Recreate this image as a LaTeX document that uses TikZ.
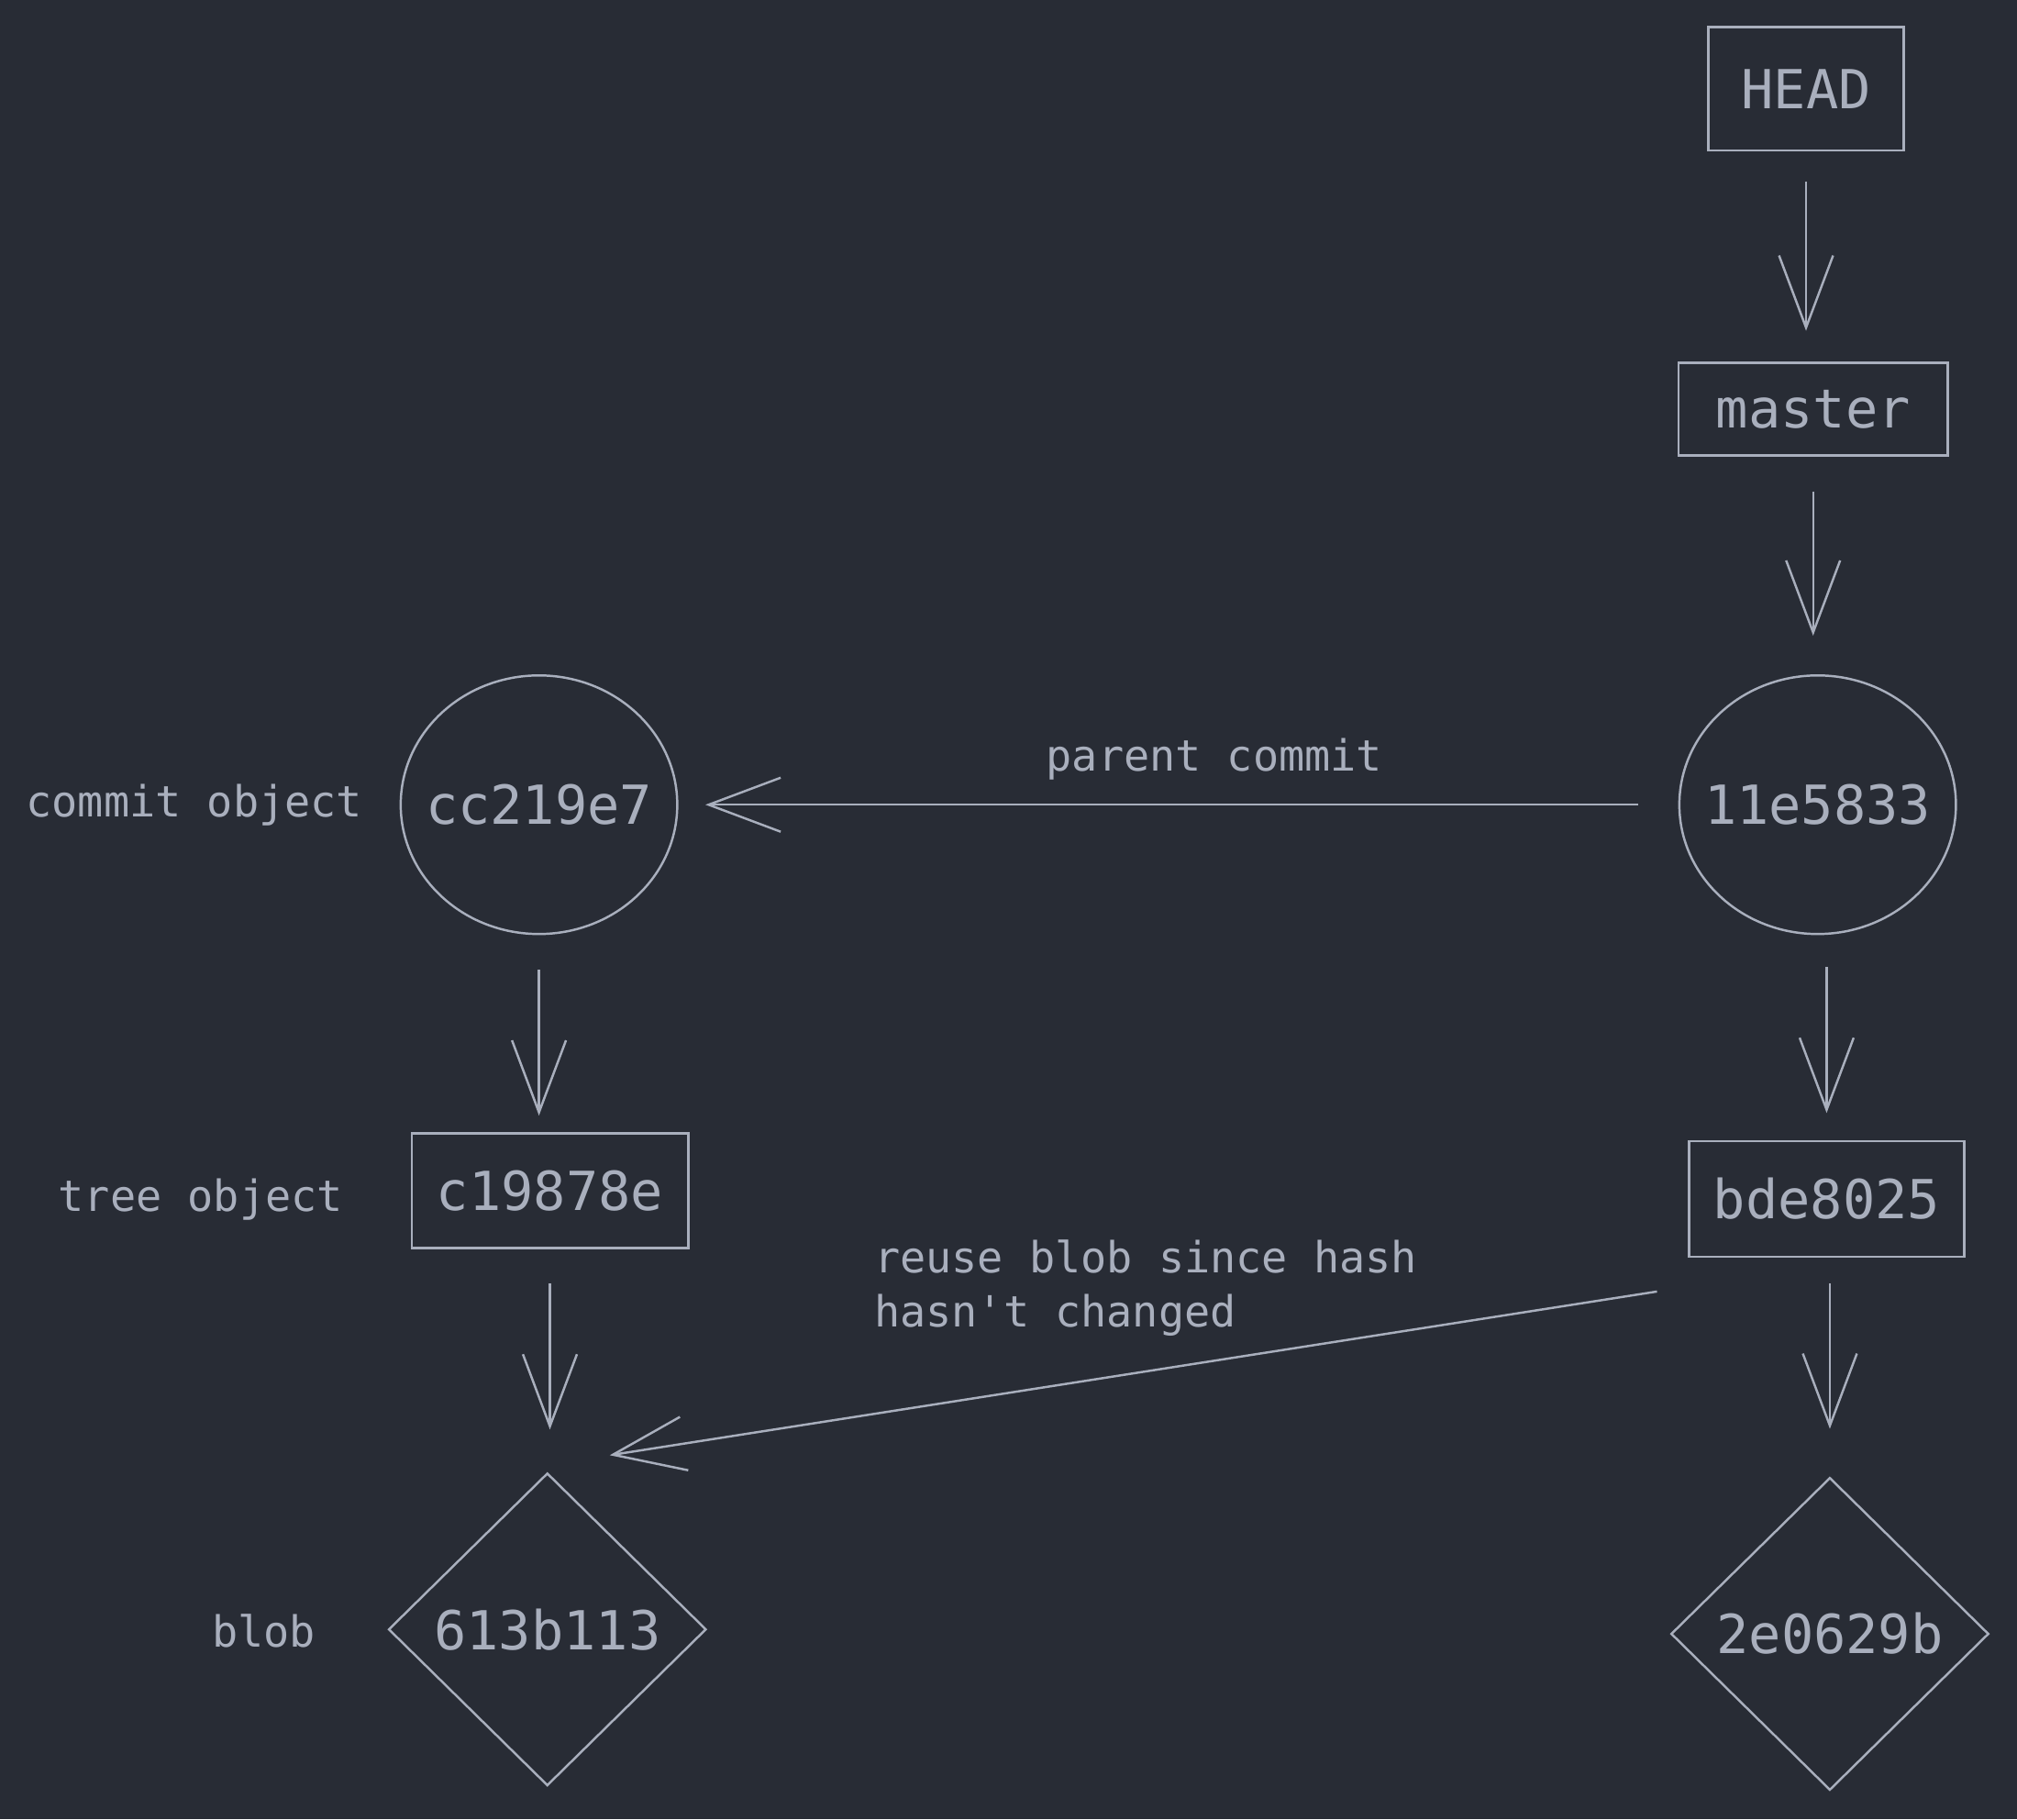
\documentclass[tikz,border=0pt]{standalone}
\usepackage{fontspec}
\setmonofont{DejaVu Sans Mono}
\usetikzlibrary{shapes.geometric,arrows.meta}
\definecolor{bgdark}{RGB}{40,44,53}
\definecolor{fggray}{RGB}{169,175,189}
\begin{document}
\begin{tikzpicture}[>={Straight Barb[length=5.6mm,width=4.2mm]},line width=0.5pt,
  every node/.style={text=fggray,font=\ttfamily\fontsize{9.5}{11.9}\selectfont},
  obj/.style={draw=fggray,inner sep=0pt,font=\ttfamily\fontsize{11.9}{14}\selectfont},
  ref/.style={obj,rectangle},
  commit/.style={obj,ellipse,inner xsep=-0.15cm,minimum width=2.15cm,minimum height=2.01cm},
  blob/.style={obj,diamond,minimum width=2.47cm,minimum height=2.43cm},
  link/.style={->,draw=fggray}]
\fill [bgdark] (0,0) rectangle (15.68,-14.14);
\useasboundingbox (0,0) rectangle (15.68,-14.14);
\node [ref,minimum width=1.52cm,minimum height=0.96cm] (head) at (14.04,-0.69) {HEAD};
\node [ref,minimum width=2.09cm,minimum height=0.72cm] (master) at (14.095,-3.18) {master};
\node [commit] (c11e) at (14.13,-6.255) {11e5833};
\node [commit] (ccc2) at (4.19,-6.255) {cc219e7};
\node [ref,minimum width=2.15cm,minimum height=0.89cm] (c198) at (4.275,-9.255) {c19878e};
\node [ref,minimum width=2.14cm,minimum height=0.90cm] (bde8) at (14.20,-9.32) {bde8025};
\node [blob] (b613) at (4.255,-12.665) {613b113};
\node [blob] (b2e0) at (14.225,-12.70) {2e0629b};
\node (lcommit) at (1.51,-6.26) {commit object};
\node (ltree) at (1.56,-9.32) {tree object};
\node (lblob) at (2.05,-12.68) {blob};
\node (lparent) at (9.44,-5.90) {parent commit};
\node [anchor=west,align=left] (lreuse) at (6.67,-10.01) {reuse blob since hash\\hasn't changed};
\draw [link,shorten <=0.23cm,shorten >=0.24cm] (head.south) -- (head.south |- master.north);
\draw [link,shorten <=0.27cm,shorten >=0.30cm] (master.south) -- (master.south |- c11e.north);
\draw [link,shorten <=0.25cm,shorten >=0.21cm] (c11e.south -| bde8) -- (bde8.north);
\draw [link,shorten <=0.27cm,shorten >=0.13cm] (ccc2.south) -- (ccc2.south |- c198.north);
\draw [link,shorten <=0.27cm,shorten >=0.33cm] (c198.south) -- (c198.south |- b613.north);
\draw [link,shorten <=0.20cm,shorten >=0.37cm] (bde8.south -| b2e0) -- (b2e0.north);
\draw [link,shorten <=0.31cm,shorten >=0.21cm] (c11e.west) -- (ccc2.east);
\draw [link] ([shift={(-0.24,-0.26)}]bde8.south west) -- ([shift={(0.485,0.13)}]b613.north);
\end{tikzpicture}
\end{document}
